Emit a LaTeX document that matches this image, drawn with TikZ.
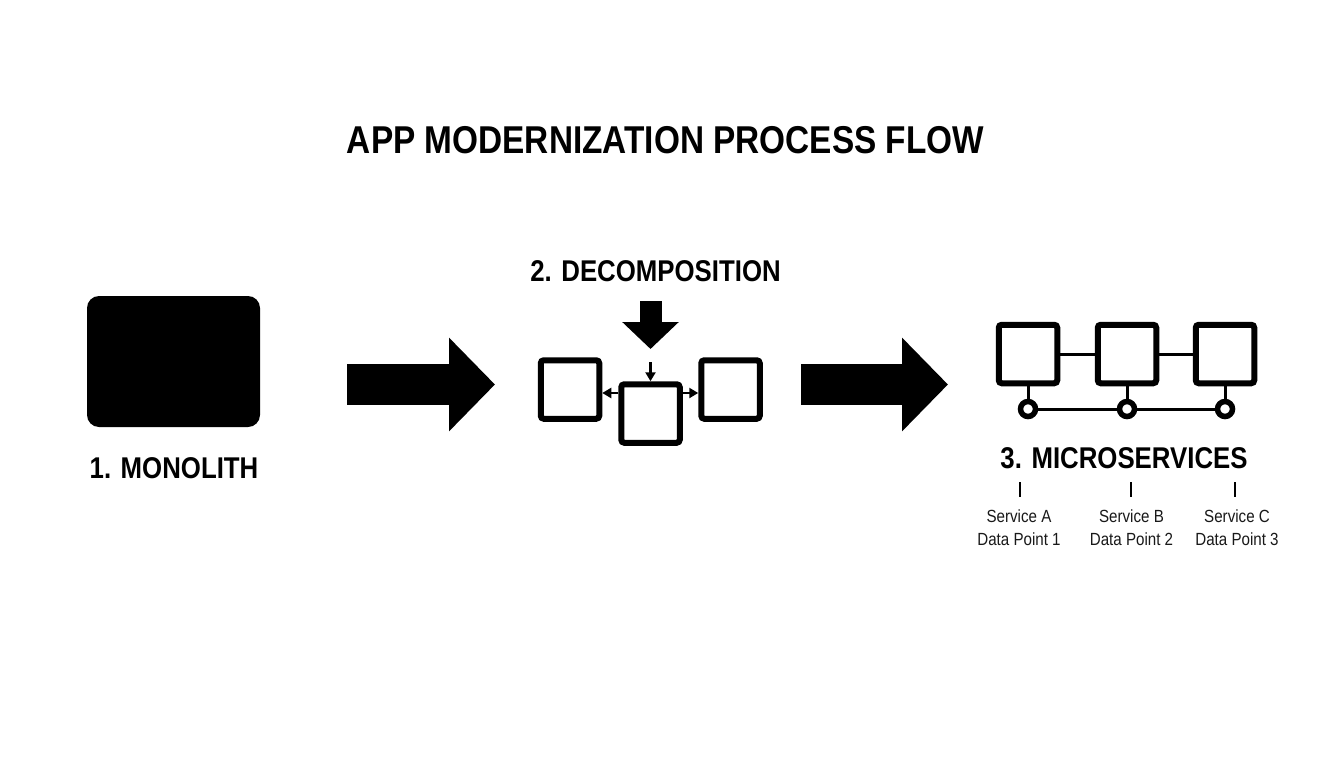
\documentclass[tikz,border=0pt]{standalone}
\usepackage{fontspec}
\setmainfont[FakeStretch=0.86]{Liberation Sans}
\usetikzlibrary{arrows.meta}
\tikzset{
  title/.style={font=\bfseries\fontsize{38.8}{44}\selectfont,text=black},
  stage/.style={font=\bfseries\fontsize{30}{34}\selectfont,text=black},
  detail/.style={font=\fontsize{17.6}{23}\selectfont,text=black!90,align=center},
  box/.style={draw=black,line width=6pt,rounded corners=3pt,fill=white,minimum size=58.5pt,inner sep=0pt},
  port/.style={circle,draw=black,line width=5.5pt,fill=white,minimum size=15pt,inner sep=0pt},
  bigarrow/.style={line width=41pt,-{Triangle[length=46pt,width=91pt]}},
  downarrow/.style={line width=22pt,-{Triangle[length=27pt,width=55pt]}},
  tinyarrow/.style={line width=2.5pt,-{Triangle[length=9pt,width=10pt]}},
  link/.style={line width=3pt},
  tick/.style={line width=2pt}
}
\begin{document}
\begin{tikzpicture}[x=1pt,y=-1pt]
%   Fond :
\fill[fill=white] (0,0) rectangle (1344,768);
\useasboundingbox (0,0) rectangle (1344,768);
%   Titre :
\node[title] (titre) at (665.5,140) {APP MODERNIZATION PROCESS FLOW};
%   Monolithe :
\node[fill=black,rounded corners=12pt,minimum width=173pt,minimum height=131pt,inner sep=0pt] (monolith) at (173.5,361.5) {};
\node[stage] (monolabel) at (174,468) {1. MONOLITH};
%   Grandes fleches :
\coordinate (fa1) at (347,384.5);
\coordinate (fa2) at (495,384.5);
\coordinate (fb1) at (801,384.5);
\coordinate (fb2) at (948,384.5);
\draw[bigarrow] (fa1) -- (fa2);
\draw[bigarrow] (fb1) -- (fb2);
%   Decomposition :
\node[stage] (decolabel) at (655.5,271) {2. DECOMPOSITION};
\coordinate (fc1) at (650.5,301);
\coordinate (fc2) at (650.5,349);
\draw[downarrow] (fc1) -- (fc2);
\node[box] (left) at (570,389.5) {};
\node[box] (centre) at (650.5,413.5) {};
\node[box] (right) at (730.5,389.5) {};
\coordinate (fd) at (650.5,362);
\draw[tinyarrow] (fd) -- (centre.north);
\draw[tinyarrow] (centre.west |- 0,393) -- (left.east |- 0,393);
\draw[tinyarrow] (centre.east |- 0,393) -- (right.west |- 0,393);
%   Microservices :
\node[box] (svca) at (1028,354) {};
\node[box] (svcb) at (1127,354) {};
\node[box] (svcc) at (1225,354) {};
\draw[link] (svca) -- (svcb);
\draw[link] (svcb) -- (svcc);
\node[port] (porta) at (1028,409) {};
\node[port] (portb) at (1127,409) {};
\node[port] (portc) at (1225,409) {};
\draw[link] (svca) -- (porta);
\draw[link] (svcb) -- (portb);
\draw[link] (svcc) -- (portc);
\draw[link] (porta) -- (portb);
\draw[link] (portb) -- (portc);
\node[stage] (microlabel) at (1124,458) {3. MICROSERVICES};
%   Services :
\coordinate (ta1) at (1020,482);
\coordinate (ta2) at (1020,497);
\coordinate (tb1) at (1131,482);
\coordinate (tb2) at (1131,497);
\coordinate (tc1) at (1235,482);
\coordinate (tc2) at (1235,497);
\draw[tick] (ta1) -- (ta2);
\draw[tick] (tb1) -- (tb2);
\draw[tick] (tc1) -- (tc2);
\node[detail] (texta) at (1019,528) {Service A\\Data Point 1};
\node[detail] (textb) at (1131.5,528) {Service B\\Data Point 2};
\node[detail] (textc) at (1237,528) {Service C\\Data Point 3};
\end{tikzpicture}
\end{document}
